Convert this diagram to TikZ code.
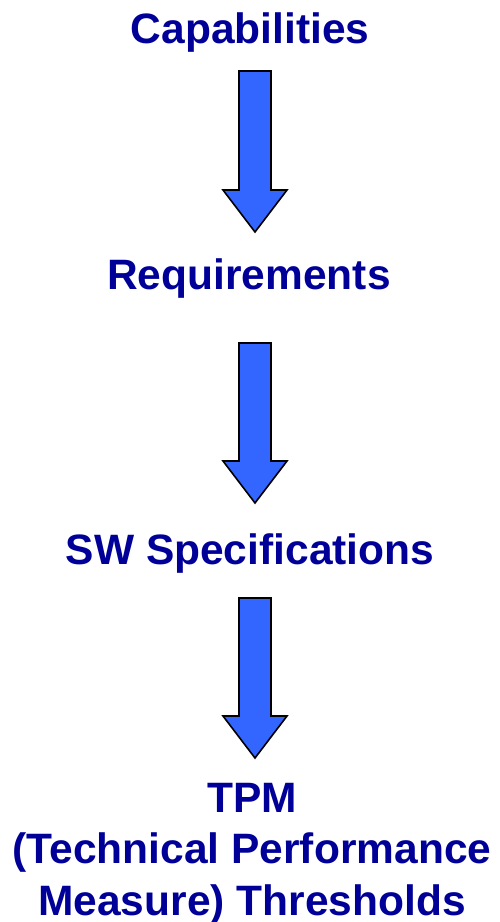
\documentclass[tikz,border=0pt]{standalone}
\usepackage{fontspec}
\setmainfont{Liberation Sans}
\usetikzlibrary{calc}
\definecolor{Navy}{HTML}{000099}
\definecolor{Flow}{HTML}{3366FF}
\tikzset{
  stage/.style={font=\fontsize{42.5}{51.5}\selectfont\bfseries,text=Navy,align=center,inner sep=0pt},
  fatarrow/.style={draw=black,fill=Flow,line width=1.6pt,line join=miter}
}
% block arrow between two named coordinates: #1 top of shaft, #2 tip
\newcommand\blockarrow[2]{%
  \draw[fatarrow] ($(#1)+(-16,0)$) -- ($(#2)+(-16,-42)$) -- ($(#2)+(-32,-42)$) -- (#2)
    -- ($(#2)+(32,-42)$) -- ($(#2)+(16,-42)$) -- ($(#1)+(16,0)$) -- cycle;}

\begin{document}
\begin{tikzpicture}[x=1pt,y=-1pt]
  \useasboundingbox (0,0) rectangle (499,922);
  \node[stage,anchor=base] (cap) at (250,43) {Capabilities};
  \node[stage,anchor=base] (req) at (249,289) {Requirements};
  \node[stage,anchor=base] (spec) at (250,564) {SW Specifications};
  \node[stage,anchor=north] (tpm) at (252,783) {TPM\\(Technical Performance\\Measure) Thresholds};

  \coordinate (a1s) at (255,71);  \coordinate (a1e) at (255,232);
  \coordinate (a2s) at (255,343); \coordinate (a2e) at (255,503);
  \coordinate (a3s) at (255,598); \coordinate (a3e) at (255,758);
  \blockarrow{a1s}{a1e}
  \blockarrow{a2s}{a2e}
  \blockarrow{a3s}{a3e}
\end{tikzpicture}
\end{document}
